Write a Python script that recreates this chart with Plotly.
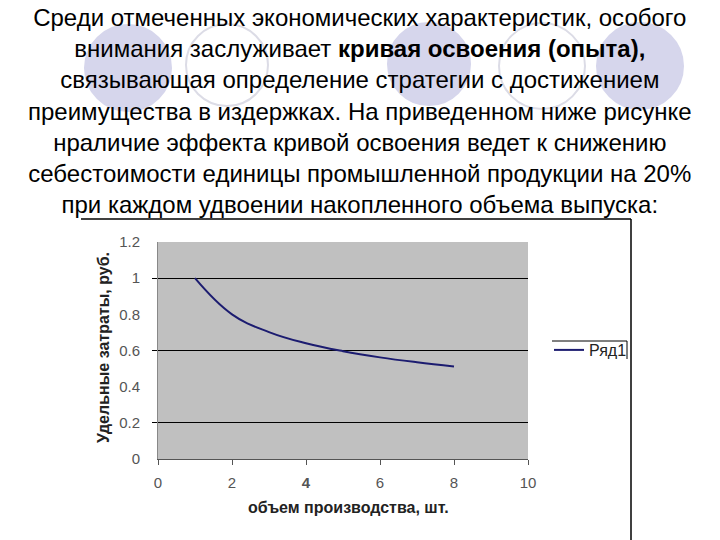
import plotly.graph_objects as go

# ---- data ----
volume = [1, 2, 3, 4, 5, 6, 7, 8]
unit_cost = [1.0, 0.8, 0.702, 0.64, 0.596, 0.562, 0.535, 0.512]
series_name = "Ряд1"
x_ticks = [0, 2, 4, 6, 8, 10]
x_ticktext = ["0", "2", "<b>4</b>", "6", "8", "10"]
y_ticks = [0, 0.2, 0.4, 0.6, 0.8, 1.0, 1.2]
y_ticktext = ["0", "0.2", "0.4", "0.6", "0.8", "1", "1.2"]
grid_values = [0.2, 0.6, 1.0]

title_html = (
    "Среди отмеченных экономических характеристик, особого<br>"
    "внимания заслуживает <b>кривая освоения (опыта),</b><br>"
    "связывающая определение стратегии с достижением<br>"
    "преимущества в издержках. На приведенном ниже рисунке<br>"
    "нраличие эффекта кривой освоения ведет к снижению<br>"
    "себестоимости единицы промышленной продукции на 20%<br>"
    "при каждом удвоении накопленного объема выпуска:"
)

W, H = 720, 540
L, R, T, B = 158, 528, 242, 459
FONT = "Liberation Sans, Arial, sans-serif"

fig = go.Figure()
fig.add_trace(go.Scatter(
    x=volume, y=unit_cost, mode="lines", name=series_name,
    line=dict(color="#1c1c70", width=2, shape="spline", smoothing=1.2),
    showlegend=True,
))

def px_x(p):
    return (p - L) / (R - L)

def px_y(p):
    return (B - p) / (B - T)

shapes = []
circles = [(128, 68, 43, True), (227, 65, 41, False), (429, 64, 41, True),
           (542, 66, 43, False), (640, 66, 43, True)]
for cx, cy, r, filled in circles:
    shapes.append(dict(
        type="circle", xref="paper", yref="paper", layer="below",
        x0=px_x(cx - r), x1=px_x(cx + r), y0=px_y(cy + r), y1=px_y(cy - r),
        fillcolor="#d6d6ec" if filled else "rgba(0,0,0,0)",
        line=dict(color="#dcdce6" if not filled else "#d6d6ec", width=2),
    ))
shapes.append(dict(type="line", xref="paper", yref="paper",
                   x0=px_x(81), x1=px_x(631), y0=px_y(219), y1=px_y(219),
                   line=dict(color="black", width=1.5)))
shapes.append(dict(type="line", xref="paper", yref="paper",
                   x0=px_x(631), x1=px_x(631), y0=px_y(219), y1=px_y(541),
                   line=dict(color="black", width=1.5)))
shapes.append(dict(type="line", xref="paper", yref="paper",
                   x0=px_x(552), x1=px_x(627), y0=px_y(341), y1=px_y(341),
                   line=dict(color="black", width=1)))
shapes.append(dict(type="line", xref="paper", yref="paper",
                   x0=px_x(627), x1=px_x(627), y0=px_y(341), y1=px_y(359),
                   line=dict(color="black", width=1)))

annotations = [
    dict(text=title_html, xref="paper", yref="paper",
         x=px_x(360), y=px_y(2), xanchor="center", yanchor="top",
         showarrow=False, align="center",
         font=dict(family=FONT, size=24, color="black")),
    dict(text="<b>объем производства, шт.</b>", xref="paper", yref="paper",
         x=px_x(348), y=px_y(507), xanchor="center", yanchor="middle", showarrow=False,
         font=dict(family=FONT, size=16, color="#222")),
    dict(text="<b>Удельные затраты, руб.</b>", xref="paper", yref="paper",
         x=px_x(103), y=px_y(348), xanchor="center", yanchor="middle", showarrow=False,
         textangle=-90,
         font=dict(family=FONT, size=16, color="#222")),
]

fig.update_layout(
    width=W, height=H,
    margin=dict(l=L, r=W - R, t=T, b=H - B, pad=0),
    paper_bgcolor="white",
    plot_bgcolor="#c0c0c0",
    font=dict(family=FONT, size=15, color="#444"),
    shapes=shapes,
    annotations=annotations,
    legend=dict(x=px_x(549), y=px_y(350), xanchor="left", yanchor="middle",
                bgcolor="rgba(0,0,0,0)", borderwidth=0,
                font=dict(size=16, color="#222")),
    showlegend=True,
)
fig.update_xaxes(
    range=[0, 10], tickvals=x_ticks, ticktext=x_ticktext,
    showgrid=False, zeroline=False,
    showline=True, linecolor="#555", linewidth=1,
    ticks="outside", ticklen=5, tickcolor="#555",
    ticklabelstandoff=5,
    tickfont=dict(size=15, color="#555"),
)
fig.update_yaxes(
    range=[0, 1.2], tickvals=y_ticks, ticktext=y_ticktext,
    showgrid=False, zeroline=False,
    showline=True, linecolor="#888", linewidth=1,
    ticks="", ticklabelstandoff=14,
    tickfont=dict(size=15, color="#555"),
    minor=dict(tickvals=grid_values, showgrid=True, gridcolor="black",
               gridwidth=1, ticks="outside", ticklen=5, tickcolor="black"),
)

fig.write_html("out.html", config={"displayModeBar": False},
               post_script="document.body.style.margin='0px';")
